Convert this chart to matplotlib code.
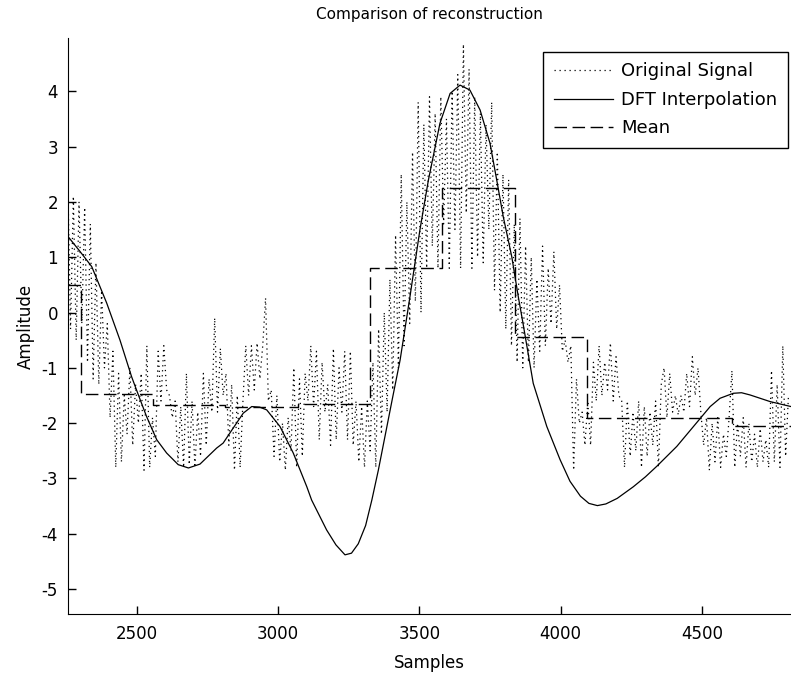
import numpy as np
import matplotlib.pyplot as plt

plt.rcParams['axes.unicode_minus'] = False

# original signal: one value every 10 samples from 2256
sig_start = 2256
sig_step = 10
signal_vals = [
    2.5, -0.3, 2.1, -0.5, 2.0, -0.2, 1.9, -0.9, 1.6, -1.2, 0.9, -1.3, 0.4, -1.0, -0.2, -1.9,
    -0.7, -2.8, -1.1, -2.7, -1.5, -2.2, -1.0, -2.4, -1.3, -2.0, -1.1, -2.85, -0.6, -2.8, -1.9, -2.6,
    -0.7, -1.6, -0.6, -1.4, -1.5, -1.9, -1.6, -2.7, -1.7, -2.8, -1.1, -2.75, -1.6, -2.8, -1.8, -2.6,
    -1.1, -2.4, -1.2, -1.8, -0.1, -1.8, -0.65, -1.5, -1.1, -2.4, -1.3, -2.85, -1.5, -2.8, -1.6, -0.6,
    -1.5, -0.6, -1.4, -0.55, -1.2, -0.6, 0.26, -1.6, -1.4, -2.6, -1.5, -2.7, -2.0, -2.85, -1.9, -2.5,
    -1.0, -2.8, -1.2, -2.6, -1.1, -1.6, -0.6, -1.7, -0.7, -2.3, -0.9, -1.8, -1.3, -2.4, -0.65, -2.3,
    -1.0, -1.8, -0.7, -2.3, -0.7, -2.4, -1.6, -2.7, -1.7, -2.8, -1.6, -2.5, -0.9, -2.8, -0.3, -2.2,
    0.0, -1.8, 0.6, -1.4, 1.4, -1.0, 2.5, -0.6, 2.0, -0.2, 2.9, 0.2, 3.8, 0.0, 3.4, 0.8,
    3.9, 1.2, 3.6, 0.8, 3.9, 1.6, 3.5, 0.8, 4.0, 1.5, 4.3, 0.8, 4.85, 1.8, 4.4, 0.8,
    3.9, 1.0, 3.6, 0.9, 3.4, 1.5, 3.8, 0.4, 2.9, 0.0, 2.5, -0.3, 2.4, -0.6, 1.6, -0.9,
    1.7, -1.0, 1.2, -0.9, 1.0, -1.0, 0.6, -0.7, 1.2, -0.6, 0.8, -0.2, 1.1, -0.3, 0.5, -0.7,
    -0.5, -0.9, -0.6, -2.85, -1.2, -2.0, -1.8, -2.4, -1.6, -2.4, -0.9, -1.6, -0.6, -1.5, -0.9, -1.4,
    -0.55, -1.6, -0.8, -1.5, -1.6, -2.8, -1.6, -2.6, -1.8, -2.5, -1.6, -2.8, -1.7, -2.6, -1.8, -2.4,
    -1.6, -2.8, -1.3, -1.0, -1.9, -1.1, -1.8, -1.5, -1.85, -1.5, -1.8, -1.1, -1.7, -0.8, -1.5, -1.0,
    -1.8, -2.4, -1.9, -2.85, -2.0, -2.7, -1.9, -2.8, -2.2, -2.6, -1.9, -1.05, -2.8, -2.0, -2.6, -1.9,
    -2.8, -2.0, -2.7, -2.2, -2.8, -2.1, -2.7, -2.3, -2.8, -1.05, -2.7, -1.3, -2.8, -0.6, -2.6, -1.5,
]

# DFT interpolation curve
dft_x = [2256, 2300, 2341, 2394, 2441, 2482, 2506, 2535, 2571, 2606, 2647, 2683, 2724,
         2783, 2806, 2840, 2877, 2907, 2935, 2960, 3007, 3054, 3102, 3119, 3172, 3205,
         3237, 3260, 3284, 3310, 3332, 3355, 3380, 3405, 3432, 3467, 3502, 3532, 3573,
         3609, 3644, 3679, 3715, 3750, 3774, 3797, 3827, 3850, 3867, 3903, 3951, 3998,
         4033, 4070, 4100, 4130, 4160, 4200, 4257, 4300, 4340, 4411, 4470, 4529, 4564,
         4611, 4640, 4670, 4741, 4815]
dft_y = [1.38, 1.10, 0.83, 0.17, -0.50, -1.16, -1.49, -1.88, -2.30, -2.54, -2.75, -2.81, -2.74,
         -2.45, -2.36, -2.10, -1.82, -1.70, -1.71, -1.76, -2.06, -2.54, -3.15, -3.39, -3.93, -4.20,
         -4.38, -4.35, -4.18, -3.85, -3.39, -2.85, -2.20, -1.55, -0.86, 0.29, 1.49, 2.39, 3.42,
         3.96, 4.11, 4.02, 3.66, 3.06, 2.39, 1.73, 1.01, 0.29, -0.20, -1.28, -2.06, -2.66,
         -3.05, -3.32, -3.45, -3.49, -3.46, -3.36, -3.15, -2.97, -2.78, -2.42, -2.06, -1.70, -1.55,
         -1.46, -1.45, -1.49, -1.61, -1.70]

# block means (256-sample blocks)
mean_edges = [2256, 2302, 2558, 2814, 3070, 3326, 3582, 3838, 4094, 4350, 4606, 4815]
mean_vals = [0.5, -1.47, -1.68, -1.70, -1.65, 0.80, 2.25, -0.45, -1.91, -1.90, -2.05]

xticks = [2500, 3000, 3500, 4000, 4500]
yticks = [-5, -4, -3, -2, -1, 0, 1, 2, 3, 4]

sig_x = sig_start + sig_step * np.arange(len(signal_vals))

fig = plt.figure(figsize=(7.91, 6.8), dpi=100)
ax = fig.add_axes([0.0856, 0.097, 0.9144, 0.847])

ax.plot(sig_x, signal_vals, color='black', lw=0.9, linestyle=(0, (1, 3)),
        label='Original Signal')
ax.plot(dft_x, dft_y, color='black', lw=0.9, label='DFT Interpolation')
ax.step(mean_edges, mean_vals + [mean_vals[-1]], where='post', color='black',
        lw=1.0, dashes=(9, 4), label='Mean')

ax.set_xlim(2256, 4815)
ax.set_ylim(-5.45, 4.96)
ax.set_xticks(xticks)
ax.set_yticks(yticks)
ax.tick_params(direction='in', length=5.5, width=1, labelsize=12)
ax.tick_params(axis='x', pad=8)
ax.tick_params(axis='y', pad=7)
ax.spines['top'].set_visible(False)
ax.spines['right'].set_visible(False)

ax.set_title('Comparison of reconstruction', fontsize=11, pad=14)
ax.set_xlabel('Samples', fontsize=12, labelpad=8)
ax.set_ylabel('Amplitude', fontsize=12, labelpad=5)

leg = ax.legend(loc='upper right', bbox_to_anchor=(788 / 791, 1 - 52 / 680),
                bbox_transform=fig.transFigure, borderaxespad=0, fontsize=13,
                fancybox=False, framealpha=1, edgecolor='black', handlelength=3.3,
                handletextpad=0.45, labelspacing=0.58, borderpad=0.58)
leg.get_frame().set_linewidth(1.0)

fig.savefig('out.png', dpi=100)
